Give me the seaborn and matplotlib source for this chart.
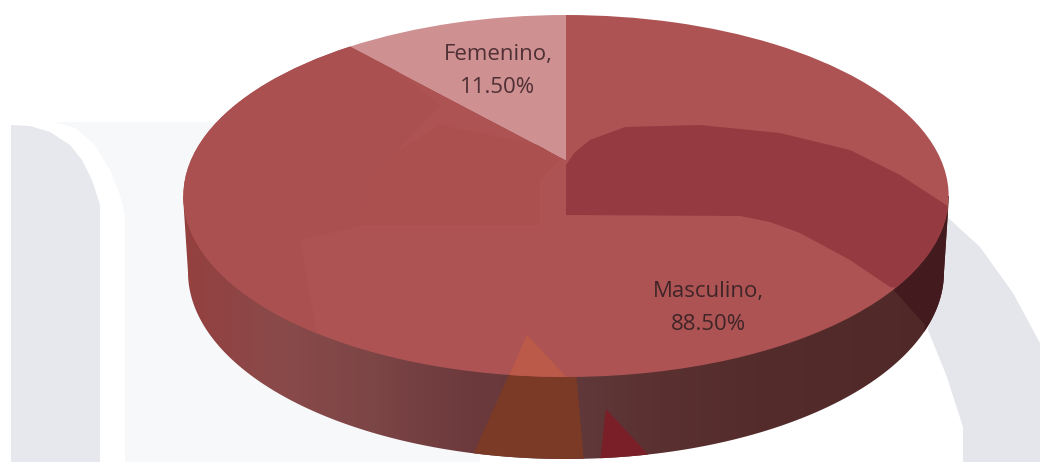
import numpy as np
import seaborn as sns
import matplotlib.pyplot as plt
from matplotlib.colors import LinearSegmentedColormap
from matplotlib.patches import PathPatch, Polygon
from matplotlib.path import Path

labels = ["Femenino", "Masculino"]
values = [11.5, 88.5]
slice_colors = ["#cf9092", "#ae5353"]
label_spots = [(498, 71), (708, 308)]
label_colors = ["#4f3034", "#3f2527"]

# side wall shading, left to right
wall_stops = ["#94403f", "#8a4a4a", "#7c4546", "#6c393c", "#623a3b", "#5a3030", "#552c2c", "#522a2a", "#502828"]

sns.set_theme(style="white")
plt.rcParams["font.family"] = ["Open Sans", "DejaVu Sans"]

fig = plt.figure(figsize=(10.4, 4.62), dpi=100)
ax = fig.add_axes([0, 0, 1, 1])


def tilt(verts):
    # the excel 3d view: far side of the disc shrinks, centre sits above the middle
    x, y = verts[:, 0], verts[:, 1]
    w = 1 + 0.1989 * y
    return np.column_stack([566 + 375 * x / w, (160 - 142 * y) / w])


wedges, _ = ax.pie(values, colors=slice_colors, startangle=90, counterclock=True)
top_patches = []
for w in wedges:
    p = w.get_path().transformed(w.get_patch_transform())
    top_patches.append(PathPatch(Path(tilt(p.vertices), p.codes), facecolor=w.get_facecolor(), edgecolor="none", zorder=5))
    w.set_visible(False)

ax.set_aspect("auto")
ax.set_xlim(0, 1040)
ax.set_ylim(462, 0)
ax.axis("off")

# pale watermark behind the chart
ax.add_patch(Polygon([(55, 122), (75, 128), (95, 145), (110, 170), (120, 195), (125, 215), (125, 462), (480, 462), (480, 122)], facecolor="#f7f8fa", edgecolor="none", zorder=1))
ax.add_patch(Polygon([(11, 125), (30, 126), (50, 132), (70, 145), (82, 160), (92, 180), (100, 205), (100, 462), (11, 462)], facecolor="#e7e8ee", edgecolor="none", zorder=1))
ax.add_patch(Polygon([(945, 215), (980, 247), (1013, 293), (1040, 343), (1040, 462), (963, 462), (963, 427), (947, 377), (928, 330)], facecolor="#e5e6ec", edgecolor="none", zorder=1))

# side wall
t = np.linspace(np.pi, 0, 200)
rim = np.column_stack([566 + 378 * np.cos(t), 272 + 187 * np.sin(t)])
wall = Polygon(np.vstack([[(183, 196)], rim, [(949, 196)]]), facecolor="none", edgecolor="none", zorder=2)
ax.add_patch(wall)
cmap = LinearSegmentedColormap.from_list("wall", wall_stops)
img = ax.imshow(np.linspace(0, 1, 256).reshape(1, -1), cmap=cmap, extent=(183, 949, 462, 190), aspect="auto", zorder=2)
img.set_clip_path(wall)
ax.set_xlim(0, 1040)
ax.set_ylim(462, 0)

# watermark showing through the wall
for pts, c in [
    ([(510, 372), (470, 462), (584, 462), (576, 372)], "#7b3a26"),
    ([(606, 409), (655, 462), (600, 462)], "#7a1f27"),
    ([(885, 280), (925, 325), (922, 345), (960, 300), (960, 200)], "#431a1d"),
]:
    pg = Polygon(pts, facecolor=c, edgecolor="none", zorder=3)
    ax.add_patch(pg)
    pg.set_clip_path(wall)

for p in top_patches:
    ax.add_patch(p)

# watermark showing through the top of the disc
clip_top = top_patches[1]
for pts, c in [
    ([(183, 90), (345, 30), (440, 105), (370, 180), (364, 225), (300, 240), (320, 350), (183, 300)], "#ab5050"),
    ([(364, 225), (370, 180), (400, 150), (440, 125), (540, 145), (560, 160), (540, 180), (540, 225)], "#ab4f4f"),
    ([(566, 215), (566, 165), (575, 152), (590, 140), (625, 127), (700, 125), (780, 133), (850, 150), (900, 175), (960, 214), (970, 300), (890, 287), (850, 260), (800, 233), (770, 222), (740, 216)], "#953a40"),
    ([(527, 335), (505, 385), (574, 385)], "#bb5a48"),
]:
    pg = Polygon(pts, facecolor=c, edgecolor="none", zorder=6)
    ax.add_patch(pg)
    pg.set_clip_path(clip_top)

for name, v, (tx, ty), c in zip(labels, values, label_spots, label_colors):
    ax.text(tx, ty, f"{name},\n{v:.2f}%", ha="center", va="center", fontsize=16, color=c, linespacing=1.7, zorder=8)

plt.savefig("out.png", dpi=100)
